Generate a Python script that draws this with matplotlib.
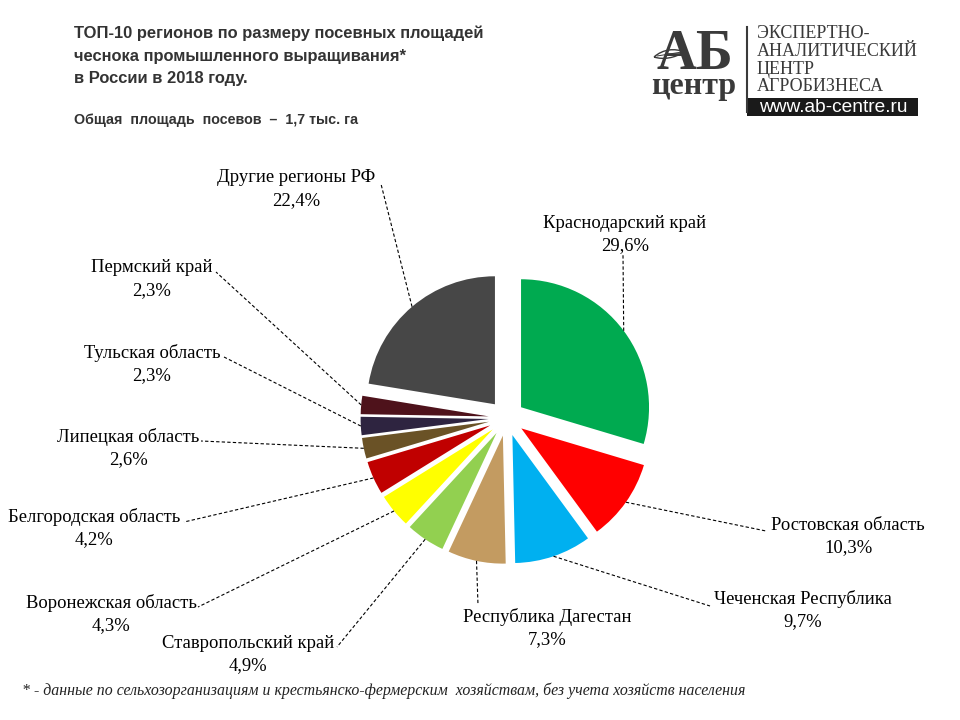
import math
import matplotlib
matplotlib.use("Agg")
import matplotlib.pyplot as plt
from matplotlib.patches import Rectangle, PathPatch
from matplotlib.path import Path

W, H = 960, 720

regions = ["Краснодарский край", "Ростовская область", "Чеченская Республика",
           "Республика Дагестан", "Ставропольский край", "Воронежская область",
           "Белгородская область", "Липецкая область", "Тульская область",
           "Пермский край", "Другие регионы РФ"]
shares = [29.6, 10.3, 9.7, 7.3, 4.9, 4.3, 4.2, 2.6, 2.3, 2.3, 22.4]
colors = ["#00AA50", "#FF0000", "#00B0F0", "#C39B61", "#92D050", "#FFFF00",
          "#C00000", "#6A5226", "#2E2440", "#4E121B", "#474747"]

# label text centre (x, y of first line) and leader end point, in pixels from top-left
label_pos = [(625, 223), (848, 525), (803, 599), (547, 617), (248, 643), (111, 603),
             (94, 517), (128, 437), (152, 353), (152, 268), (296, 178)]
leader_end = [(623, 255), (766, 531), (710, 606), (478, 605), (337, 647), (198, 607),
              (184, 522), (201, 441), (224, 357), (216, 272), (381, 184)]

fig = plt.figure(figsize=(9.6, 7.2), dpi=100)
ax = fig.add_axes([0, 0, 1, 1])

wedges, _ = ax.pie(shares, colors=colors, startangle=90, counterclock=False,
                   explode=[18] * len(shares), radius=128, center=(506.6, H - 418),
                   wedgeprops=dict(linewidth=0), frame=False)
ax.set_xlim(0, W)
ax.set_ylim(0, H)
ax.set_aspect("equal")
ax.axis("off")

serif = "Liberation Serif"
for w, name, val, (lx, ly), (ex, ey) in zip(wedges, regions, shares, label_pos, leader_end):
    tm = math.radians((w.theta1 + w.theta2) / 2)
    sx = w.center[0] + w.r * math.cos(tm)
    sy = w.center[1] + w.r * math.sin(tm)
    ax.plot([sx, ex], [sy, H - ey], color="black", lw=0.8, ls=(0, (3, 2)))
    ax.text(lx, H - ly, name, ha="center", va="center", fontsize=13.4, family=serif)
    ax.text(lx, H - ly - 22.5, f"{val:.1f}%".replace(".", ","), ha="center",
            va="center", fontsize=13.4, family=serif)

# title
title_font = dict(family="Liberation Sans", weight="bold", color="#333333", fontsize=11.9)
for i, line in enumerate(["ТОП-10 регионов по размеру посевных площадей",
                          "чеснока промышленного выращивания*",
                          "в России в 2018 году."]):
    ax.text(74, H - 33 - 23 * i, line, ha="left", va="center", **title_font)
ax.text(74, H - 120, "Общая  площадь  посевов  –  1,7 тыс. га", ha="left", va="center",
        **dict(title_font, fontsize=10.3))

# logo
logo_c = "#3a3a3a"
ax.text(695, H - 69, "АБ", ha="center", va="baseline", fontsize=40, weight="bold",
        family=serif, color=logo_c)
ax.text(694, H - 94, "центр", ha="center", va="baseline", fontsize=23, weight="bold",
        family=serif, color=logo_c)
leaf = Path([(654, H - 57), (663, H - 49), (675, H - 48), (684, H - 52),
             (675, H - 58), (663, H - 60), (654, H - 57)],
            [Path.MOVETO, Path.CURVE4, Path.CURVE4, Path.CURVE4,
             Path.CURVE4, Path.CURVE4, Path.CURVE4])
ax.add_patch(PathPatch(leaf, facecolor="white", edgecolor=logo_c, lw=1.0))
ax.plot([657, 682], [H - 56, H - 52], color=logo_c, lw=0.7)
swoosh = Path([(684, H - 52), (700, H - 58), (712, H - 48), (732, H - 53)],
              [Path.MOVETO, Path.CURVE4, Path.CURVE4, Path.CURVE4])
ax.add_patch(PathPatch(swoosh, facecolor="none", edgecolor="white", lw=2.2))
ax.plot([747, 747], [H - 27, H - 112], color=logo_c, lw=1.5)
for i, line in enumerate(["ЭКСПЕРТНО-", "АНАЛИТИЧЕСКИЙ", "ЦЕНТР", "АГРОБИЗНЕСА"]):
    ax.text(757, H - 34 - 17.5 * i, line, ha="left", va="center", fontsize=13,
            family=serif, color=logo_c)
ax.add_patch(Rectangle((747, H - 116), 171, 18, color="#1a1a1a", lw=0))
ax.text(833, H - 107, "www.ab-centre.ru", ha="center", va="center", fontsize=13.8,
        family="Liberation Sans", color="white")

# footnote
ax.text(22, H - 691, "* - данные по сельхозорганизациям и крестьянско-фермерским  хозяйствам, "
        "без учета хозяйств населения", ha="left", va="center", fontsize=11.4,
        family=serif, style="italic", color="#222222")

fig.savefig("out.png", dpi=100)
